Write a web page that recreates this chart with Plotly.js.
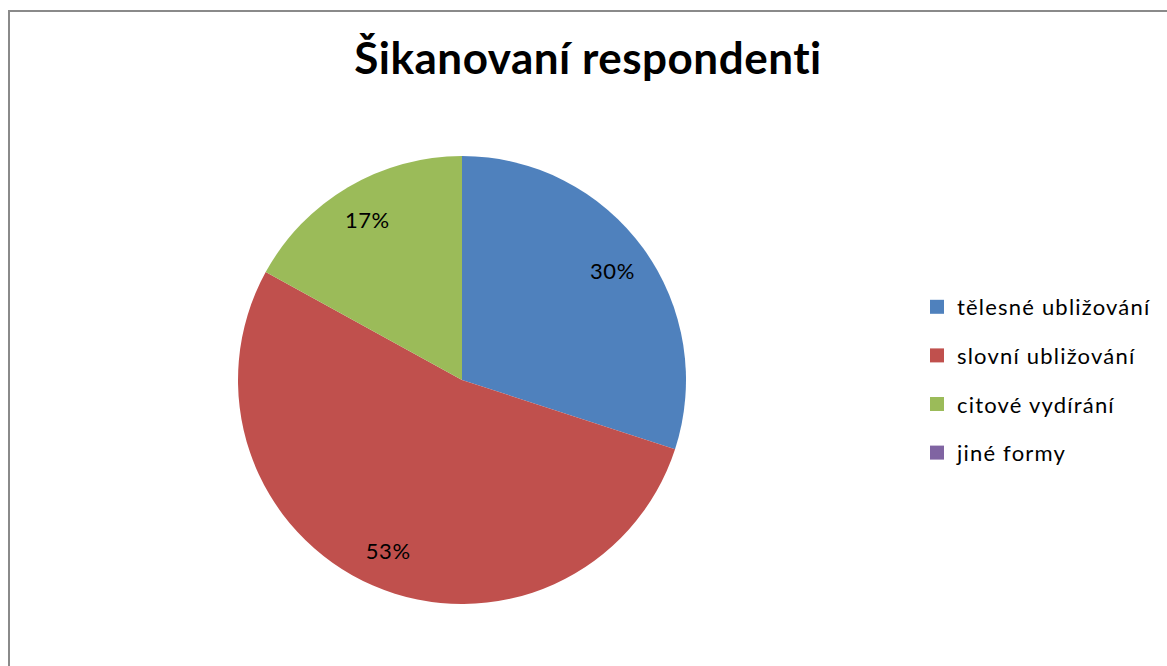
<!DOCTYPE html>
<html>
<head>
<meta charset="utf-8">
<script src="https://cdn.plot.ly/plotly-3.0.1.min.js"></script>
<style>
html,body{margin:0;padding:0;background:#fff;overflow:hidden;}
#chart{position:absolute;left:0;top:0;width:1167px;height:666px;}
#frame{position:absolute;left:8px;top:10px;width:1200px;height:700px;border-left:2px solid #8a8a8a;border-top:2px solid #8a8a8a;pointer-events:none;}
#chart .legendtext{letter-spacing:1.2px;}
#chart g.legend g.scrollbox{clip-path:none !important;}
#chart .gtitle{letter-spacing:0.5px;}
#chart .slicetext{letter-spacing:0.6px;}
</style>
</head>
<body>
<div id="chart"></div>
<div id="frame"></div>
<script>
const categories = ["tělesné ubližování", "slovní ubližování", "citové vydírání", "jiné formy"];
const shares = [30, 53, 17, 0];
const colors = ["#4F81BD", "#C0504D", "#9BBB59", "#8064A2"];
const chartTitle = "Šikanovaní respondenti";

const W = 1167, H = 666;
const font = "Lato, 'Open Sans', 'Liberation Sans', sans-serif";
const pieDomain = {x: [238 / W, 686 / W], y: [(H - 604) / H, (H - 156) / H]};

const traces = [{
  type: "pie",
  labels: categories,
  values: shares,
  sort: false,
  direction: "clockwise",
  rotation: 0,
  marker: {colors: colors, line: {width: 0}},
  textinfo: "none",
  showlegend: false,
  hoverinfo: "label+percent",
  domain: pieDomain
}, {
  // transparent ring carrying the percentage labels further out
  type: "pie",
  labels: categories,
  values: shares,
  sort: false,
  direction: "clockwise",
  rotation: 0,
  hole: 0.66,
  marker: {colors: categories.map(() => "rgba(0,0,0,0)"), line: {width: 0}},
  texttemplate: "%{percent:.0%}",
  textposition: "inside",
  insidetextorientation: "horizontal",
  textfont: {family: font, size: 22, color: "#000"},
  showlegend: false,
  hoverinfo: "skip",
  domain: pieDomain
}];

categories.forEach((c, i) => {
  traces.push({
    type: "scatter",
    mode: "markers",
    x: [null], y: [null],
    name: c,
    legendgroup: "g" + i,
    marker: {symbol: "square", size: 14, color: colors[i]},
    showlegend: true,
    hoverinfo: "skip"
  });
});

const layout = {
  width: W, height: H,
  margin: {l: 0, r: 0, t: 0, b: 0},
  paper_bgcolor: "#fff",
  plot_bgcolor: "rgba(0,0,0,0)",
  title: {
    text: "<b>" + chartTitle + "</b>",
    font: {family: font, size: 44, color: "#000"},
    x: 588 / W, xanchor: "center",
    y: 1 - 59 / H, yanchor: "middle",
    xref: "container", yref: "container"
  },
  xaxis: {visible: false},
  yaxis: {visible: false},
  legend: {
    x: 917 / W, xanchor: "left",
    y: 1 - 286 / H, yanchor: "top",
    font: {family: font, size: 22, color: "#000"},
    tracegroupgap: 17,
    bgcolor: "rgba(0,0,0,0)"
  },
  showlegend: true
};

Plotly.newPlot("chart", traces, layout, {displayModeBar: false, staticPlot: true});
</script>
</body>
</html>
